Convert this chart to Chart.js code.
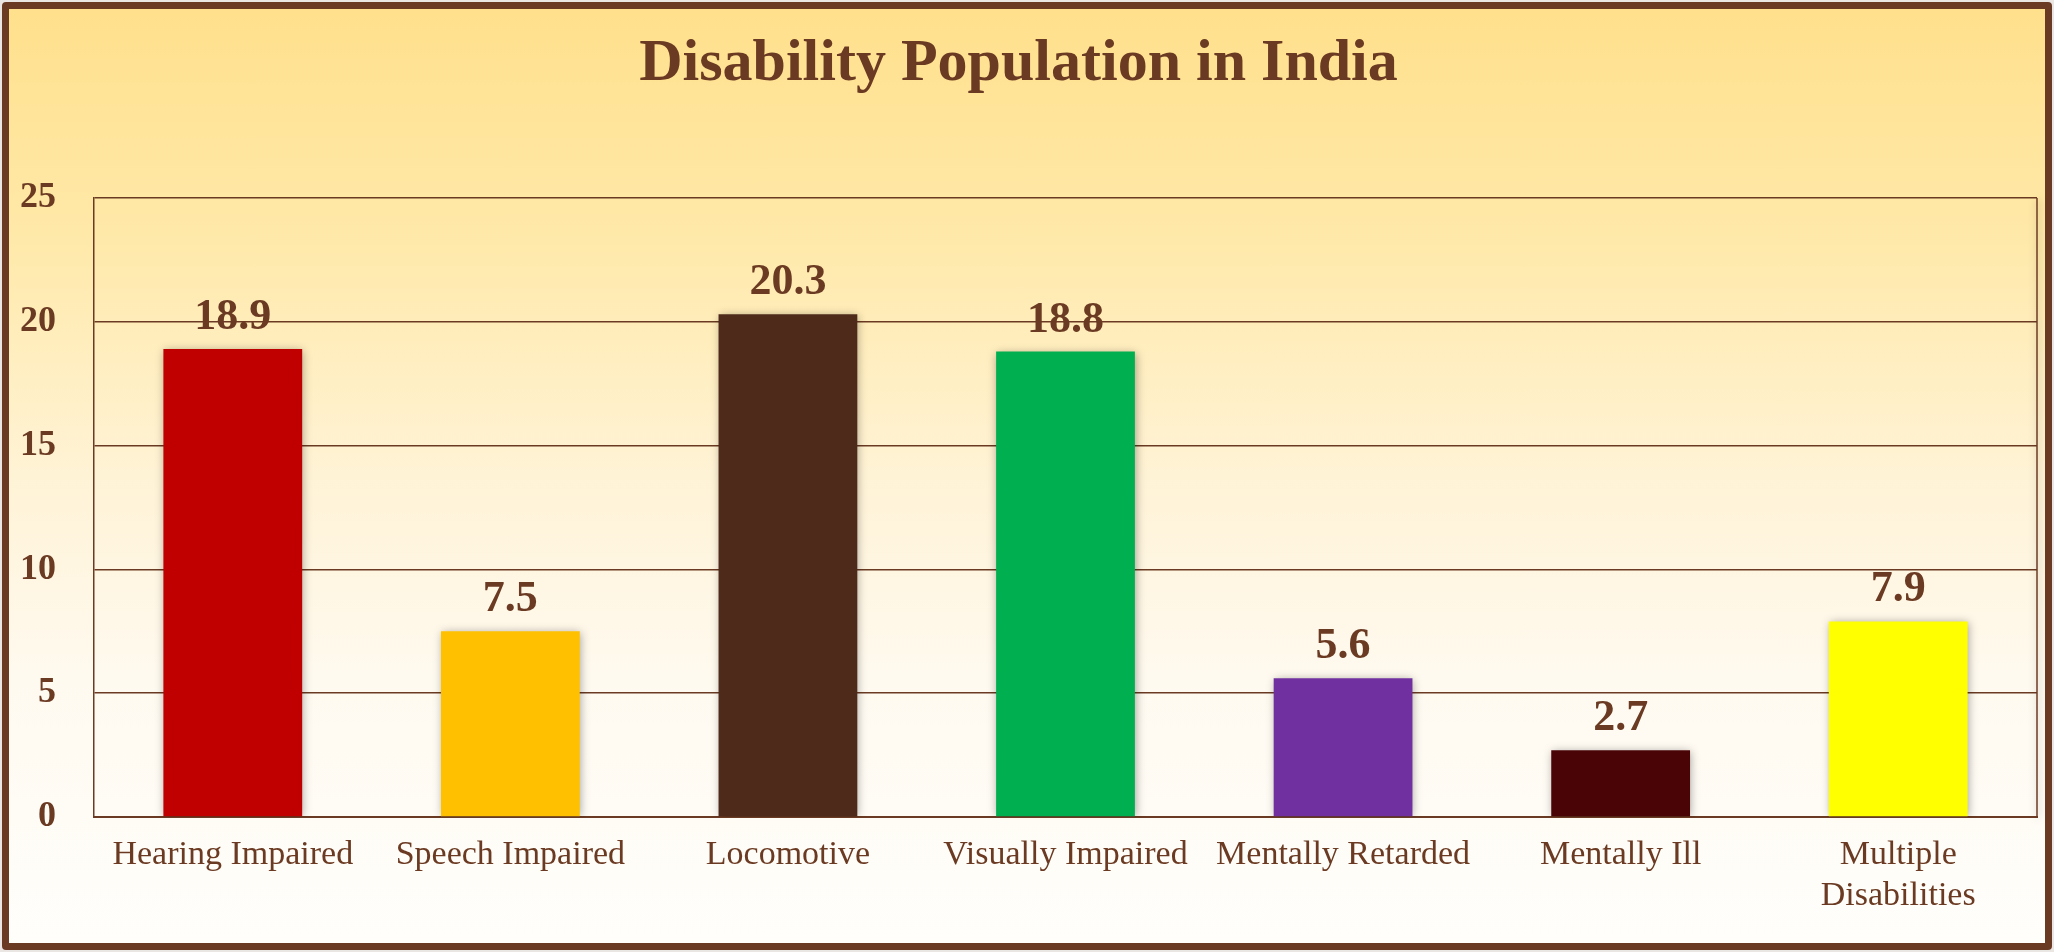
<!DOCTYPE html>
<html>
<head>
<meta charset="utf-8">
<script src="https://cdn.jsdelivr.net/npm/chart.js@4.4.0/dist/chart.umd.min.js"></script>
<style>
  html, body { margin: 0; padding: 0; background: #e9e6e3; }
  #frame {
    position: absolute; left: 2px; top: 2px;
    width: 2036px; height: 934px;
    border: 7px solid #6b3a22; border-radius: 4px;
    background: linear-gradient(to bottom, #ffe08c 0%, #ffe9aa 25%, #fff3d6 50%, #fffaf0 72%, #fffefb 100%);
  }
  #chart { position: absolute; left: 0; top: 0; }
</style>
</head>
<body>
<div id="frame"></div>
<canvas id="chart" width="2054" height="952"></canvas>
<script>
// ── Data ───────────────────────────────────────────────────
const categories = ['Hearing Impaired', 'Speech Impaired', 'Locomotive', 'Visually Impaired',
                    'Mentally Retarded', 'Mentally Ill', ['Multiple', 'Disabilities']];
const values     = [18.9, 7.5, 20.3, 18.8, 5.6, 2.7, 7.9];
const barColors  = ['#c00000', '#ffc000', '#4e2a1a', '#00b050', '#7030a0', '#4a0406', '#ffff00'];
const yTicks     = [0, 5, 10, 15, 20, 25];

const BROWN = '#6b3a22';
const SERIF = "'Liberation Serif', 'DejaVu Serif', serif";

// soft shadow behind the bars
const barShadow = {
  id: 'barShadow',
  beforeDatasetsDraw(chart) {
    const c = chart.ctx;
    c.save();
    c.shadowColor = 'rgba(0,0,0,0.35)';
    c.shadowBlur = 9;
    c.shadowOffsetX = 1;
    c.shadowOffsetY = 1;
  },
  afterDatasetsDraw(chart) { chart.ctx.restore(); }
};

// value on top of each bar
const valueLabels = {
  id: 'valueLabels',
  afterDatasetsDraw(chart) {
    const c = chart.ctx;
    const meta = chart.getDatasetMeta(0);
    c.save();
    c.font = `bold 44px ${SERIF}`;
    c.fillStyle = BROWN;
    c.textAlign = 'center';
    c.textBaseline = 'alphabetic';
    meta.data.forEach((bar, i) => {
      c.fillText(values[i].toFixed(1), bar.x, bar.y - 20);
    });
    c.restore();
  }
};

// right edge of the plot box
const plotFrame = {
  id: 'plotFrame',
  beforeDatasetsDraw(chart) {
    const a = chart.chartArea, c = chart.ctx;
    c.save();
    c.strokeStyle = BROWN;
    c.lineWidth = 1.5;
    c.beginPath();
    c.moveTo(a.right, a.top);
    c.lineTo(a.right, a.bottom);
    c.stroke();
    c.restore();
  }
};

new Chart(document.getElementById('chart'), {
  type: 'bar',
  data: {
    labels: categories,
    datasets: [{
      data: values,
      backgroundColor: barColors,
      borderWidth: 0,
      barPercentage: 0.5,
      categoryPercentage: 1,
    }]
  },
  options: {
    responsive: false,
    devicePixelRatio: 1,
    animation: false,
    layout: { padding: { left: 0, right: 17, top: 0, bottom: 0 } },
    plugins: {
      legend: { display: false },
      tooltip: { enabled: false },
      title: {
        display: true,
        text: 'Disability Population in India',
        color: BROWN,
        font: { family: SERIF, size: 60, weight: 'bold' },
        padding: { top: 28, bottom: 98 },
      },
    },
    scales: {
      x: {
        afterFit: s => { s.height = 135; },
        grid: { display: false, drawTicks: false },
        border: { display: true, color: BROWN, width: 2 },
        ticks: { color: BROWN, font: { family: SERIF, size: 34 }, padding: 18, maxRotation: 0, autoSkip: false },
      },
      y: {
        min: 0, max: 25,
        afterFit: s => { s.width = 94; },
        afterBuildTicks: s => { s.ticks = yTicks.map(v => ({ value: v })); },
        grid: { color: BROWN, lineWidth: 1.5, drawTicks: false },
        border: { display: true, color: BROWN, width: 1.5 },
        ticks: { color: BROWN, font: { family: SERIF, size: 36, weight: 'bold' }, padding: 38 },
      },
    },
  },
  plugins: [barShadow, valueLabels, plotFrame],
});
</script>
</body>
</html>
